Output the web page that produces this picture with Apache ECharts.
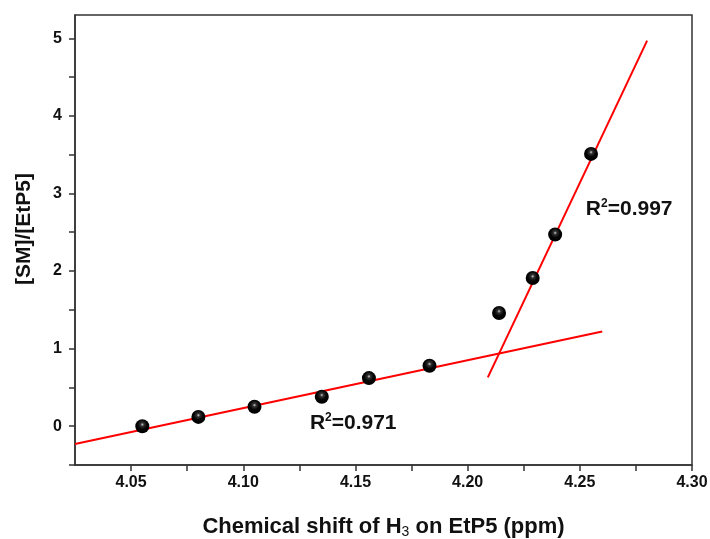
<!DOCTYPE html>
<html>
<head>
<meta charset="utf-8">
<script src="https://cdn.jsdelivr.net/npm/echarts@6/dist/echarts.min.js"></script>
<style>
  html, body { margin: 0; padding: 0; background: #fff; }
  #chart { width: 710px; height: 539px; }
</style>
</head>
<body>
<div id="chart"></div>
<script>
// measured points: chemical shift (ppm) vs [SM]/[EtP5]
const shiftVals = [4.055, 4.080, 4.105, 4.135, 4.156, 4.183, 4.214, 4.229, 4.239, 4.255];
const ratioVals = [0.00, 0.12, 0.25, 0.38, 0.62, 0.78, 1.46, 1.91, 2.47, 3.51];

// fitted lines (end points)
const fitLowX = [4.025, 4.260];
const fitLowY = [-0.23, 1.22];
const fitHighX = [4.209, 4.280];
const fitHighY = [0.63, 4.97];

// R^2 annotations
const r2Text = ['0.971', '0.997'];
const r2X = [4.149, 4.272];
const r2Y = [0.04, 2.80];

// ticks
const xLabelVals = [4.05, 4.10, 4.15, 4.20, 4.25, 4.30];
const xTickVals = [4.05, 4.075, 4.10, 4.125, 4.15, 4.175, 4.20, 4.225, 4.25, 4.275, 4.30];
const yLabelVals = [0, 1, 2, 3, 4, 5];
const yTickVals = [-0.5, 0, 0.5, 1, 1.5, 2, 2.5, 3, 3.5, 4, 4.5, 5];

const font = "'Liberation Sans', Arial, sans-serif";
const axisColor = '#333';
const textColor = '#111';

const chart = echarts.init(document.getElementById('chart'));

// black ball with a small shine
const ball = {
  type: 'radial', x: 0.5, y: 0.38, r: 0.55,
  colorStops: [
    { offset: 0, color: '#cfcfcf' },
    { offset: 0.22, color: '#333' },
    { offset: 0.6, color: '#050505' },
    { offset: 1, color: '#000' }
  ]
};

chart.setOption({
  animation: false,
  backgroundColor: '#fff',
  grid: {
    left: 75, right: 18, top: 15, bottom: 74,
    outerBoundsMode: 'none',
    containLabel: false,
    show: true, borderColor: axisColor, borderWidth: 1.5
  },
  xAxis: {
    type: 'value',
    min: 4.025, max: 4.30,
    name: '{t|Chemical shift of H}{s|3}{t| on EtP5 (ppm)}',
    nameLocation: 'middle',
    nameGap: 49,
    nameTextStyle: {
      rich: {
        t: { fontFamily: font, fontWeight: 'bold', fontSize: 22, color: textColor },
        s: { fontFamily: font, fontSize: 14, color: textColor, padding: [11, 0, 0, 0] }
      }
    },
    axisLine: { onZero: false, lineStyle: { color: axisColor, width: 1.5 } },
    axisTick: { customValues: xTickVals, length: 6, lineStyle: { color: axisColor, width: 1.5 } },
    axisLabel: {
      customValues: xLabelVals,
      formatter: v => v.toFixed(2),
      fontFamily: font, fontWeight: 'bold', fontSize: 16, color: textColor, margin: 10
    },
    splitLine: { show: false }
  },
  yAxis: {
    type: 'value',
    min: -0.5, max: 5.3,
    name: '[SM]/[EtP5]',
    nameLocation: 'middle',
    nameGap: 40,
    nameTextStyle: {
      fontFamily: font, fontWeight: 'bold', fontSize: 21, color: textColor,
      padding: [0, 0, 0, 22]
    },
    axisLine: { onZero: false, lineStyle: { color: axisColor, width: 1.5 } },
    axisTick: { customValues: yTickVals, length: 6, lineStyle: { color: axisColor, width: 1.5 } },
    axisLabel: {
      customValues: yLabelVals,
      fontFamily: font, fontWeight: 'bold', fontSize: 16, color: textColor, margin: 13
    },
    splitLine: { show: false }
  },
  series: [
    {
      type: 'line',
      data: fitLowX.map((x, i) => [x, fitLowY[i]]),
      symbol: 'none',
      lineStyle: { color: '#ff0000', width: 2 },
      z: 2
    },
    {
      type: 'line',
      data: fitHighX.map((x, i) => [x, fitHighY[i]]),
      symbol: 'none',
      lineStyle: { color: '#ff0000', width: 2 },
      z: 2
    },
    {
      type: 'scatter',
      data: shiftVals.map((x, i) => [x, ratioVals[i]]),
      symbol: 'circle',
      symbolSize: 14,
      itemStyle: { color: ball, opacity: 1 },
      z: 3
    },
    {
      type: 'scatter',
      data: r2X.map((x, i) => [x, r2Y[i], r2Text[i]]),
      symbolSize: 0,
      silent: true,
      itemStyle: { opacity: 1 },
      label: {
        show: true,
        position: 'inside',
        formatter: p => '{t|R}{s|2}{t|=' + p.value[2] + '}',
        rich: {
          t: { fontFamily: font, fontWeight: 'bold', fontSize: 21, color: textColor },
          s: { fontFamily: font, fontWeight: 'bold', fontSize: 12, color: textColor, padding: [0, 0, 11, 0] }
        }
      },
      z: 4
    }
  ]
});
</script>
</body>
</html>
